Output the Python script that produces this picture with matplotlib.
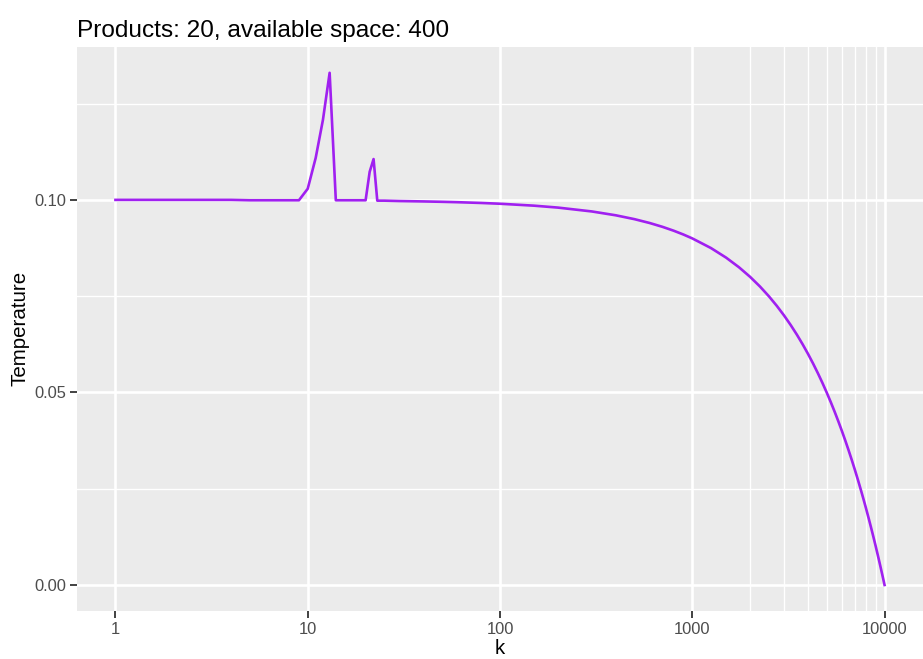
import numpy as np
import matplotlib.pyplot as plt
from matplotlib.ticker import FixedLocator, NullFormatter

# iteration number k and temperature read along the run
k = [1, 2, 3, 4, 5, 6, 7, 8, 9, 10, 11, 12, 13, 14, 15, 16, 17, 18, 19, 20,
     21, 22, 23, 24, 25, 30, 40, 50, 60, 80, 100, 150, 200, 300, 400, 500,
     600, 700, 800, 900, 1000, 1250, 1500, 1750, 2000, 2250, 2500, 2750,
     3000, 3250, 3500, 3750, 4000, 4250, 4500, 4750, 5000, 5250, 5500, 5750,
     6000, 6250, 6500, 6750, 7000, 7250, 7500, 7750, 8000, 8250, 8500, 8750,
     9000, 9250, 9500, 9750, 10000]
temperature = [0.1000, 0.1000, 0.1000, 0.1000, 0.0999, 0.0999, 0.0999, 0.0999,
               0.0999, 0.1029, 0.1109, 0.1208, 0.1330, 0.0999, 0.0999, 0.0999,
               0.0999, 0.0999, 0.0999, 0.0999, 0.1073, 0.1106, 0.0998, 0.0998,
               0.0998, 0.0997, 0.0996, 0.0995, 0.0994, 0.0992, 0.0990, 0.0985,
               0.0980, 0.0970, 0.0960, 0.0950, 0.0940, 0.0930, 0.0920, 0.0910,
               0.0900, 0.0875, 0.0850, 0.0825, 0.0800, 0.0775, 0.0750, 0.0725,
               0.0700, 0.0675, 0.0650, 0.0625, 0.0600, 0.0575, 0.0550, 0.0525,
               0.0500, 0.0475, 0.0450, 0.0425, 0.0400, 0.0375, 0.0350, 0.0325,
               0.0300, 0.0275, 0.0250, 0.0225, 0.0200, 0.0175, 0.0150, 0.0125,
               0.0100, 0.0075, 0.0050, 0.0025, 0.0000]

x_major = [1, 10, 100, 1000, 10000]
x_labels = ["1", "10", "100", "1000", "10000"]
x_minor = [2000, 3000, 4000, 5000, 6000, 7000, 8000, 9000]
y_major = [0.00, 0.05, 0.10]
y_labels = ["0.00", "0.05", "0.10"]
y_minor = [0.025, 0.075, 0.125]

plt.rcParams['font.family'] = ['Liberation Sans', 'DejaVu Sans']

fig = plt.figure(figsize=(9.23, 6.59), dpi=100)
ax = fig.add_axes([77 / 923, 1 - 610.6 / 659, 1 - 77 / 923, (610.6 - 47) / 659])
ax.set_facecolor('#EBEBEB')
for s in ax.spines.values():
    s.set_visible(False)

ax.set_xscale('log')
ax.set_xlim(10 ** -0.2, 10 ** 4.2)
ax.set_ylim(-0.00665, 0.1397)

ax.xaxis.set_major_locator(FixedLocator(x_major))
ax.set_xticklabels(x_labels)
ax.xaxis.set_minor_locator(FixedLocator(x_minor))
ax.xaxis.set_minor_formatter(NullFormatter())
ax.set_yticks(y_major)
ax.set_yticklabels(y_labels)
ax.set_yticks(y_minor, minor=True)

ax.grid(which='major', color='white', linewidth=1.9)
ax.grid(which='minor', color='white', linewidth=0.95)
ax.set_axisbelow(True)
ax.tick_params(which='major', length=5, width=1.3, color='#333333',
               labelsize=11.9, labelcolor='#4D4D4D', pad=3)
ax.tick_params(which='minor', length=0)

ax.plot(k, temperature, color='#A020F0', linewidth=1.9, solid_joinstyle='round')

ax.set_xlabel('k', fontsize=14.8, labelpad=2)
ax.set_ylabel('Temperature', fontsize=14.8, labelpad=3)
ax.set_title('Products: 20, available space: 400', loc='left',
             fontsize=17.6, pad=7)

fig.savefig('out.png', dpi=100)
